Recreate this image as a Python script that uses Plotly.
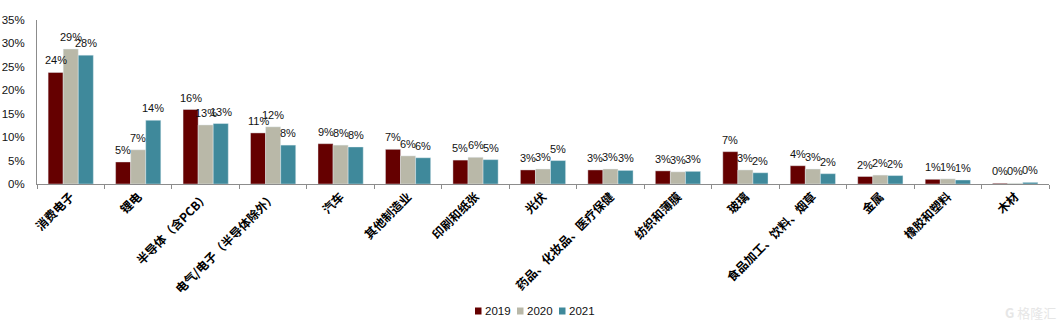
import plotly.graph_objects as go

categories = ["消费电子", "锂电", "半导体（含PCB）", "电气/电子（半导体除外）", "汽车", "其他制造业",
              "印刷和纸张", "光伏", "药品、化妆品、医疗保健", "纺织和薄膜", "玻璃",
              "食品加工、饮料、烟草", "金属", "橡胶和塑料", "木材"]
years = ["2019", "2020", "2021"]
v2019 = [23.8, 4.7, 15.9, 10.9, 8.6, 7.4, 5.1, 3.0, 3.0, 2.8, 6.9, 3.9, 1.6, 1.0, 0.15]
v2020 = [28.8, 7.3, 12.6, 12.2, 8.3, 6.0, 5.7, 3.2, 3.2, 2.6, 3.0, 3.2, 1.9, 1.1, 0.15]
v2021 = [27.5, 13.6, 12.9, 8.3, 7.9, 5.6, 5.2, 5.0, 2.9, 2.7, 2.4, 2.2, 1.8, 0.85, 0.35]
y_ticks = [0, 5, 10, 15, 20, 25, 30, 35]

colors = ["#650000", "#B9B8A8", "#3F899B"]
series = [v2019, v2020, v2021]

W, H = 1064, 330
ML, MR, MT, MB = 37, 15, 20, 146
plot_w = W - ML - MR
plot_h = H - MT - MB
BARGAP = 0.33
bar_px = plot_w / len(categories) * (1 - BARGAP) / 3

fig = go.Figure()
for i, (name, vals, col) in enumerate(zip(years, series, colors)):
    fig.add_trace(go.Bar(
        name=name, x=categories, y=vals, showlegend=False,
        marker=dict(color=col, line=dict(color="rgba(230,240,245,0.7)", width=0.6)),
    ))
    # value labels floating above each bar
    for cat, v in zip(categories, vals):
        fig.add_annotation(
            x=cat, y=v, xref="x", yref="y", text=f"{round(v):.0f}%",
            showarrow=False, xanchor="center", yanchor="middle",
            xshift=(i - 1) * bar_px, yshift=12,
            font=dict(family="Liberation Sans, Arial, sans-serif", size=11, color="#111111"),
        )

# legend drawn as small swatches followed by the year
def px_x(p):
    return (p - ML) / plot_w

def px_y(p):
    return (H - MB - p) / plot_h

leg_y = 311
for i, (name, col) in enumerate(zip(years, colors)):
    x0 = 475 + i * 42
    fig.add_shape(type="rect", xref="paper", yref="paper",
                  x0=px_x(x0), x1=px_x(x0 + 6.5), y0=px_y(leg_y + 3.5), y1=px_y(leg_y - 3.5),
                  fillcolor=col, line=dict(width=0))
    fig.add_annotation(text=name, xref="paper", yref="paper", x=px_x(x0 + 7.5), y=px_y(leg_y),
                       xanchor="left", yanchor="middle", showarrow=False,
                       font=dict(family="Liberation Sans, Arial, sans-serif", size=11.5,
                                 color="#111111"))

fig.update_layout(
    width=W, height=H,
    margin=dict(l=ML, r=MR, t=MT, b=MB),
    paper_bgcolor="white", plot_bgcolor="white",
    barmode="group", bargap=BARGAP, bargroupgap=0,
    font=dict(family="Liberation Sans, Arial, sans-serif", size=11, color="#111111"),
    showlegend=False,
)
fig.update_xaxes(
    type="category", tickangle=-45, tickson="boundaries", ticks="outside", ticklen=4,
    tickcolor="#8c8c8c", showline=True, linecolor="#8c8c8c", linewidth=1,
    showgrid=False, automargin=False,
    tickfont=dict(family="Noto Sans CJK SC, sans-serif", size=12, color="#000000",
                  weight="bold"),
)
fig.update_yaxes(
    range=[0, 35], tickvals=y_ticks, ticktext=[f"{t}%" for t in y_ticks],
    showline=True, linecolor="#8c8c8c", linewidth=1, ticks="", ticklabelstandoff=9,
    showgrid=False, zeroline=False, automargin=False,
    tickfont=dict(size=11.5, color="#111111"),
)

# faint brand mark, bottom right
fig.add_annotation(text="<b>G</b> 格隆汇", xref="paper", yref="paper", x=px_x(1058), y=px_y(312),
                   xanchor="right", yanchor="middle", showarrow=False,
                   font=dict(family="Noto Sans CJK SC, sans-serif", size=13, color="#e6e6e6"))

fig.write_html("out.html")
